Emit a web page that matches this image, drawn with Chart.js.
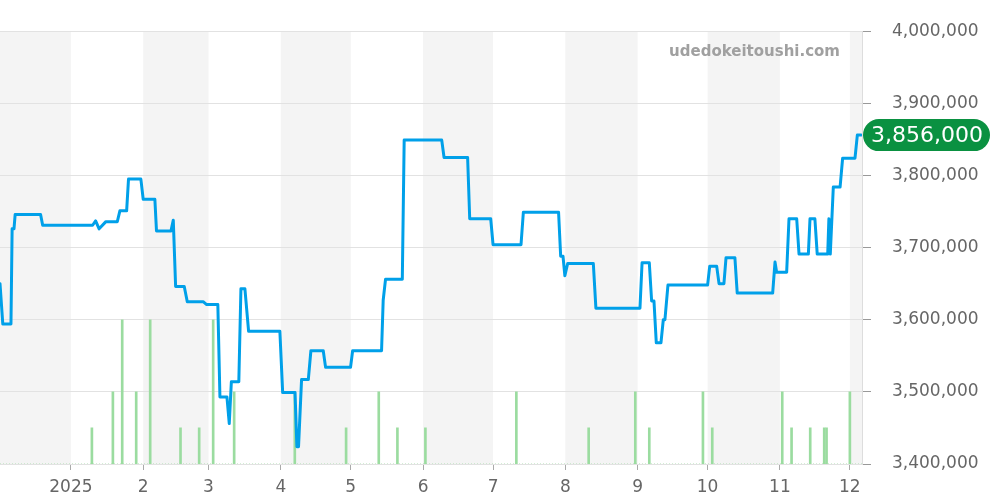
<!DOCTYPE html>
<html>
<head>
<meta charset="utf-8">
<script src="https://cdn.jsdelivr.net/npm/chart.js@4/dist/chart.umd.min.js"></script>
<style>
  html, body { margin: 0; padding: 0; background: #ffffff; }
  #wrap { width: 1000px; height: 500px; }
</style>
</head>
<body>
<div id="wrap"><canvas id="priceChart" width="1000" height="500"></canvas></div>
<script>
// Days counted from 2025-01-01 (negative = Dec 2024)
const monthStartDays = [-31, 0, 31, 59, 90, 120, 151, 181, 212, 243, 273, 304, 334, 365];
const monthTickDays = [0, 31, 59, 90, 120, 151, 181, 212, 243, 273, 304, 334];
const monthTickLabels = ['2025', '2', '3', '4', '5', '6', '7', '8', '9', '10', '11', '12'];

const priceTicks = [3400000, 3500000, 3600000, 3700000, 3800000, 3900000, 4000000];

// Price line (day, yen)
const priceDays = [
  -30.4, -29.2, -25.7, -25.2, -24.4, -23.9, -13.0, -12.1, 9.3, 10.6,
  12.1, 15.0, 19.9, 21.0, 23.9, 24.7, 30.0, 31.0, 36.0, 36.7,
  42.9, 43.9, 44.9, 48.6, 49.9, 56.7, 58.2, 63.0, 63.9, 66.9,
  67.9, 68.8, 72.0, 72.9, 74.6, 76.2, 89.6, 90.8, 96.1, 96.9,
  97.6, 98.9, 101.8, 102.9, 108.2, 109.2, 119.9, 120.8, 133.2, 133.9,
  134.9, 142.1, 142.9, 159.0, 160.0, 170.1, 171.0, 180.0, 181.0, 193.0,
  194.0, 209.1, 210.0, 211.0, 211.8, 213.0, 224.0, 225.1, 244.0, 244.9,
  248.0, 249.0, 250.0, 251.0, 253.0, 254.0, 254.7, 256.0, 273.0, 273.9,
  276.9, 277.9, 280.0, 280.9, 284.7, 285.7, 300.9, 301.9, 302.6, 306.9,
  307.9, 311.2, 312.2, 316.2, 316.9, 319.0, 320.0, 324.5, 325.0, 325.6,
  326.9, 329.8, 330.9, 336.2, 337.2, 338.8
];
const prices = [
  3650000, 3594000, 3594000, 3726000, 3726000, 3746000, 3746000, 3731000, 3731000, 3737000,
  3726000, 3736000, 3736000, 3751000, 3751000, 3795000, 3795000, 3767000, 3767000, 3723000,
  3723000, 3738000, 3646000, 3646000, 3625000, 3625000, 3621000, 3621000, 3493000, 3493000,
  3456000, 3514000, 3514000, 3643000, 3643000, 3584000, 3584000, 3499000, 3499000, 3424000,
  3424000, 3517000, 3517000, 3557000, 3557000, 3534000, 3534000, 3557000, 3557000, 3627000,
  3656000, 3656000, 3849000, 3849000, 3825000, 3825000, 3740000, 3740000, 3704000, 3704000,
  3749000, 3749000, 3688000, 3688000, 3661000, 3678000, 3678000, 3616000, 3616000, 3679000,
  3679000, 3626000, 3626000, 3568000, 3568000, 3600000, 3600000, 3648000, 3648000, 3674000,
  3674000, 3650000, 3650000, 3686000, 3686000, 3637000, 3637000, 3680000, 3666000, 3666000,
  3740000, 3740000, 3691000, 3691000, 3740000, 3740000, 3691000, 3691000, 3740000, 3691000,
  3784000, 3784000, 3824000, 3824000, 3856000, 3856000
];

// Volume bars (day, count)
const volumeDays = [9, 18, 22, 28, 34, 47, 55, 61, 70, 96, 118, 132, 140, 152, 191, 222, 242, 248, 271, 275, 305, 309, 317, 323, 324, 334];
const volumes =    [1, 2, 4, 2, 4, 1, 1, 4, 2, 2, 1, 2, 1, 1, 2, 1, 2, 1, 2, 1, 2, 1, 1, 1, 1, 2];

const xMin = -30.4;
const xMax = 339.2;
const fontFamily = "'DejaVu Sans', sans-serif";

// Alternating grey month bands behind everything
const monthBands = {
  id: 'monthBands',
  beforeDraw(chart) {
    const { ctx, chartArea } = chart;
    const x = chart.scales.x;
    ctx.save();
    ctx.fillStyle = '#f4f4f4';
    for (let i = 0; i < monthStartDays.length - 1; i += 2) {
      const left = Math.max(x.getPixelForValue(monthStartDays[i]), chartArea.left);
      const right = Math.min(x.getPixelForValue(monthStartDays[i + 1]), chartArea.right);
      if (right > left) ctx.fillRect(left, chartArea.top, right - left, chartArea.bottom - chartArea.top);
    }
    ctx.restore();
  }
};

// Watermark + latest price badge
const overlay = {
  id: 'overlay',
  afterDraw(chart) {
    const { ctx, chartArea } = chart;
    const y = chart.scales.y;
    ctx.save();
    ctx.font = "bold 15px " + fontFamily;
    ctx.fillStyle = '#a0a0a0';
    ctx.textAlign = 'right';
    ctx.textBaseline = 'middle';
    ctx.fillText('udedokeitoushi.com', chartArea.right - 22, 52);

    const last = prices[prices.length - 1];
    const cy = y.getPixelForValue(last);
    const left = chartArea.right + 1;
    const w = 127, h = 32, r = 16;
    ctx.fillStyle = '#0a9141';
    ctx.beginPath();
    ctx.roundRect(left, cy - h / 2, w, h, r);
    ctx.fill();
    ctx.font = "22px " + fontFamily;
    ctx.fillStyle = '#ffffff';
    ctx.textAlign = 'left';
    ctx.fillText(last.toLocaleString('en-US'), left + 8, cy + 1);
    ctx.restore();
  }
};

const lineData = priceDays.map((d, i) => ({ x: d, y: prices[i] }));
const volumeData = volumeDays.map((d, i) => ({ x: d, y: volumes[i] }));

new Chart(document.getElementById('priceChart'), {
  type: 'line',
  data: {
    datasets: [
      {
        type: 'line',
        data: lineData,
        yAxisID: 'y',
        borderColor: '#00a0e9',
        borderWidth: 3,
        borderJoinStyle: 'round',
        borderCapStyle: 'round',
        pointRadius: 0,
        tension: 0,
        order: 0
      },
      {
        type: 'bar',
        data: volumeData,
        yAxisID: 'y2',
        backgroundColor: '#9bdca0',
        barThickness: 2,
        order: 1
      },
      {
        type: 'line',
        data: [{ x: xMin, y: 0 }, { x: xMax, y: 0 }],
        yAxisID: 'y2',
        borderColor: '#a8dfac',
        borderWidth: 1,
        borderDash: [1, 2],
        pointRadius: 0,
        order: 2
      }
    ]
  },
  options: {
    responsive: false,
    animation: false,
    layout: { padding: { top: 31, left: 0, right: 0, bottom: 0 } },
    plugins: {
      legend: { display: false },
      tooltip: { enabled: false }
    },
    scales: {
      x: {
        type: 'linear',
        min: xMin,
        max: xMax,
        offset: false,
        afterBuildTicks(scale) {
          scale.ticks = monthTickDays.map(v => ({ value: v }));
        },
        afterFit(scale) { scale.height = 36; },
        grid: { display: true, offset: false, drawOnChartArea: false, drawTicks: true, tickLength: 6, color: '#aaaaaa' },
        border: { display: false },
        ticks: {
          autoSkip: false,
          maxRotation: 0,
          padding: 7,
          color: '#666666',
          font: { family: fontFamily, size: 17 },
          callback: (value, index) => monthTickLabels[index]
        }
      },
      y: {
        position: 'right',
        min: 3400000,
        max: 4000000,
        afterBuildTicks(scale) {
          scale.ticks = priceTicks.map(v => ({ value: v }));
        },
        afterFit(scale) { scale.width = 138; },
        grid: { color: '#e2e2e2', tickLength: 9, tickColor: '#999999' },
        border: { display: true, color: '#dddddd' },
        ticks: {
          padding: 21,
          color: '#666666',
          font: { family: fontFamily, size: 17 },
          callback: value => value.toLocaleString('en-US')
        }
      },
      y2: {
        display: false,
        min: 0,
        max: 12
      }
    }
  },
  plugins: [monthBands, overlay]
});
</script>
</body>
</html>
